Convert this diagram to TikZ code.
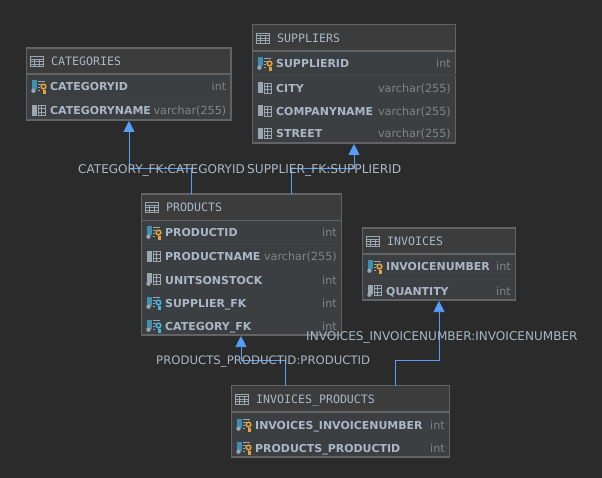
\documentclass[tikz,border=0pt]{standalone}
\usepackage{fontspec}
\setmainfont{DejaVu Sans}
\newfontfamily\titlefont{DejaVu Sans Mono}
\usetikzlibrary{arrows.meta}
\definecolor{canvas}{HTML}{2B2B2B}
\definecolor{headfill}{HTML}{3C3C3C}
\definecolor{bodyfill}{HTML}{3C3F41}
\definecolor{edge}{HTML}{616364}
\definecolor{inktext}{HTML}{A9B7C6}
\definecolor{typetext}{HTML}{7F8589}
\definecolor{linkblue}{HTML}{589DF6}
\definecolor{icongrey}{HTML}{9AA7B0}
\definecolor{iconblue}{HTML}{3E8FB0}
\definecolor{keyorange}{HTML}{E2A33A}
\definecolor{keyblue}{HTML}{40B6E0}
\tikzset{
	tablebox/.style={draw=edge,line width=1.3pt,fill=bodyfill,inner sep=0pt,outer sep=0pt,anchor=north west},
	titletext/.style={anchor=base west,inner sep=0pt,text=inktext,font=\titlefont\fontsize{11.6}{14}\selectfont},
	colname/.style={anchor=base west,inner sep=0pt,text=inktext,font=\bfseries\fontsize{10.95}{14}\selectfont},
	coltype/.style={anchor=base east,inner sep=0pt,text=typetext,font=\fontsize{11.2}{14}\selectfont},
	fklabel/.style={anchor=base west,inner sep=0pt,text=inktext,font=\fontsize{12.05}{14}\selectfont},
	fkline/.style={draw=linkblue,line width=.75pt,-{Triangle[width=11pt,length=11pt,fill=linkblue]}},
	table icon/.pic={
		\draw[icongrey,line width=.8pt] (0,0) rectangle (13,10);
		\foreach \gx in {4.3,8.6} \draw[icongrey,line width=.8pt] (\gx,2.5) -- (\gx,10);
		\foreach \gy in {2.5,5,7.5} \draw[icongrey,line width=.8pt] (0,\gy) -- (13,\gy);
	},
	col icon/.pic={
		\fill[icongrey] (0,-5.5) rectangle (5,5.5);
		\draw[icongrey,line width=.8pt] (6,-5) rectangle (13.5,5);
		\draw[icongrey,line width=.8pt] (9.5,-5) -- (9.5,5) (6,-1.7) -- (13.5,-1.7) (6,1.7) -- (13.5,1.7);
	},
	nn icon/.pic={
		\fill[icongrey] (0,-6) rectangle (5,3);
		\fill[icongrey] (1.5,4.2) circle (2.2);
		\draw[icongrey,line width=.8pt] (6,-5) rectangle (13.5,5);
		\draw[icongrey,line width=.8pt] (9.5,-5) -- (9.5,5) (6,-1.7) -- (13.5,-1.7) (6,1.7) -- (13.5,1.7);
	},
	key icon/.pic={
		\fill[iconblue] (0,-6) rectangle (5,3);
		\fill[icongrey] (1.5,4.2) circle (2.2);
		\draw[icongrey,line width=.8pt] (6,-5.5) -- (13,-5.5) (6,-2.5) -- (9,-2.5) (6,.5) -- (8,.5) (6,3.5) -- (8,3.5);
		\draw[#1,line width=1.5pt] (11.5,0) circle (2.3);
		\draw[#1,line width=1.5pt] (11.5,2.3) -- (11.5,6.5) -- (13.5,6.5) (11.5,4.5) -- (13.5,4.5);
	},
}
% one table: name, left, top, width, height, head height, title
\newcommand{\dbtable}[7]{
	\node[tablebox,minimum width=#4pt,minimum height=#5pt] at (#2,#3) (#1) {};
	\fill[headfill] ([shift={(.6,.6)}]#1.north west) rectangle ([shift={(-.6,#6)}]#1.north east);
	\draw[edge,line width=1.1pt] ([yshift=-#6pt]#1.north west) -- ([yshift=-#6pt]#1.north east);
	\pic at ([shift={(4,8.5)}]#1.north west) {table icon};
	\node[titletext] at ([shift={(24.5,18)}]#1.north west) (#1title) {#7};
}
% one row: table, row id, baseline below top, icon, name, type
\newcommand{\dbrow}[6]{
	\pic at ([shift={(5.5,#3-4.5)}]#1.north west) {#4};
	\node[colname] at ([shift={(23.5,#3)}]#1.north west) (#1#2name) {#5};
	\node[coltype] at ([shift={(-4.5,#3)}]#1.north east) (#1#2type) {#6};
}
\newcommand{\dbsep}[2]{
	\draw[edge!120!white,line width=1.1pt] ([yshift=-#2pt]#1.north west) -- ([yshift=-#2pt]#1.north east);
}
\begin{document}
\begin{tikzpicture}[x=1pt,y=-1pt]
	\fill[canvas] (0,0) rectangle (602,478);

	\dbtable{CATEGORIES}{26.5}{48}{204.5}{72}{26}{CATEGORIES}
	\dbrow{CATEGORIES}{a}{43}{key icon=keyorange}{CATEGORYID}{int}
	\dbsep{CATEGORIES}{50.5}
	\dbrow{CATEGORIES}{b}{67}{col icon}{CATEGORYNAME}{varchar(255)}

	\dbtable{SUPPLIERS}{252.5}{24.5}{203}{118.5}{26.5}{SUPPLIERS}
	\dbrow{SUPPLIERS}{a}{43.5}{key icon=keyorange}{SUPPLIERID}{int}
	\dbsep{SUPPLIERS}{50.5}
	\dbrow{SUPPLIERS}{b}{68}{col icon}{CITY}{varchar(255)}
	\dbrow{SUPPLIERS}{c}{91}{col icon}{COMPANYNAME}{varchar(255)}
	\dbrow{SUPPLIERS}{d}{113.5}{col icon}{STREET}{varchar(255)}

	\dbtable{PRODUCTS}{141.5}{194}{200}{141}{26.5}{PRODUCTS}
	\dbrow{PRODUCTS}{a}{43}{key icon=keyorange}{PRODUCTID}{int}
	\dbsep{PRODUCTS}{50.5}
	\dbrow{PRODUCTS}{b}{67}{col icon}{PRODUCTNAME}{varchar(255)}
	\dbrow{PRODUCTS}{c}{90}{nn icon}{UNITSONSTOCK}{int}
	\dbrow{PRODUCTS}{d}{113}{key icon=keyblue}{SUPPLIER\_FK}{int}
	\dbrow{PRODUCTS}{e}{136}{key icon=keyblue}{CATEGORY\_FK}{int}

	\dbtable{INVOICES}{362.5}{228}{153}{72}{26}{INVOICES}
	\dbrow{INVOICES}{a}{43}{key icon=keyorange}{INVOICENUMBER}{int}
	\dbsep{INVOICES}{50.5}
	\dbrow{INVOICES}{b}{67}{nn icon}{QUANTITY}{int}

	\dbtable{INVPROD}{231.5}{385.5}{218}{71.5}{26.5}{INVOICES\_PRODUCTS}
	\dbrow{INVPROD}{a}{43.5}{key icon=keyorange}{INVOICES\_INVOICENUMBER}{int}
	\dbrow{INVPROD}{b}{66.5}{key icon=keyorange}{PRODUCTS\_PRODUCTID}{int}

	% foreign keys
	\draw[fkline] ([xshift=49.5pt]PRODUCTS.north west) -- ++(0,-25.5) -| ([shift={(102.5,1)}]CATEGORIES.south west);
	\draw[fkline] ([xshift=149.5pt]PRODUCTS.north west) -- ++(0,-25.5) -| ([shift={(101.5,1)}]SUPPLIERS.south west);
	\draw[fkline] ([xshift=53.5pt]INVPROD.north west) -- ++(0,-25.5) -| ([shift={(99.5,1)}]PRODUCTS.south west);
	\draw[fkline] ([xshift=163.5pt]INVPROD.north west) -- ++(0,-25.5) -| ([shift={(76.5,1)}]INVOICES.south west);

	\node[fklabel] at (78,173.5) (catfk) {CATEGORY\_FK:CATEGORYID};
	\node[fklabel,font=\fontsize{12.2}{14}\selectfont] at (247,173.5) (supfk) {SUPPLIER\_FK:SUPPLIERID};
	\node[fklabel,font=\fontsize{11.7}{14}\selectfont] at (156,364.5) (prodfk) {PRODUCTS\_PRODUCTID:PRODUCTID};
	\node[fklabel] at (306,340.5) (invfk) {INVOICES\_INVOICENUMBER:INVOICENUMBER};
\end{tikzpicture}
\end{document}
